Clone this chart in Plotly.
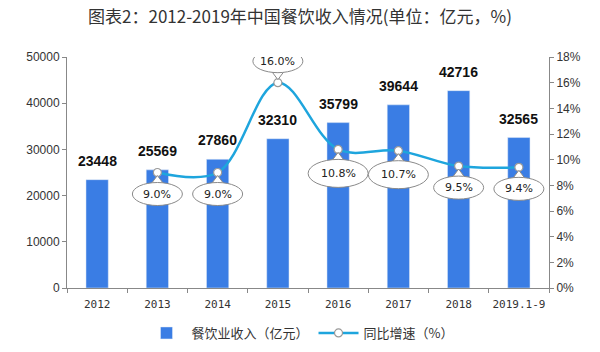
import plotly.graph_objects as go

categories = ["2012", "2013", "2014", "2015", "2016", "2017", "2018", "2019.1-9"]
revenue = [23448, 25569, 27860, 32310, 35799, 39644, 42716, 32565]
growth_cats = ["2013", "2014", "2015", "2016", "2017", "2018", "2019.1-9"]
growth = [9.0, 9.0, 16.0, 10.8, 10.7, 9.5, 9.4]
growth_labels = ["9.0%", "9.0%", "16.0%", "10.8%", "10.7%", "9.5%", "9.4%"]
callout_above = [False, False, True, False, False, False, False]

BAR = "#3a7de4"
LINE = "#1ea5dd"

fig = go.Figure()
fig.add_trace(go.Bar(x=categories, y=revenue, name="餐饮业收入（亿元）",
                     marker_color=BAR, width=0.37, yaxis="y"))
fig.add_trace(go.Scatter(x=growth_cats, y=growth, name="同比增速（%）", yaxis="y2",
                         mode="lines+markers",
                         line=dict(color=LINE, width=2.5, shape="spline", smoothing=1.0),
                         marker=dict(size=8, color="white", line=dict(color="#9a9a9a", width=1.2))))

annotations = []
for i, v in enumerate(revenue):
    annotations.append(dict(x=i, y=v, xref="x", yref="y", text=f"<b>{v}</b>",
                            showarrow=False, yanchor="bottom", yshift=9,
                            font=dict(family="Liberation Sans, Arial", size=14, color="#111")))

shapes = []
for c, v, t, up in zip(growth_cats, growth, growth_labels, callout_above):
    xi = categories.index(c)
    wide = len(t) >= 5 and not up
    hw = 30 if wide else 25
    h = 28 if wide else 23
    if up:
        ey0, ey1 = 10, 10 + h
        tri = "M -6,11 L 0,3 L 6,11 Z"
    else:
        ey0, ey1 = -10 - h, -10
        tri = "M -6,-11 L 0,-3 L 6,-11 Z"
    ty = (ey0 + ey1) / 2
    shapes.append(dict(type="path", xref="x", yref="y2", xsizemode="pixel", ysizemode="pixel",
                       xanchor=xi, yanchor=v, path=tri, fillcolor="white",
                       line=dict(color="#8a8a8a", width=1)))
    shapes.append(dict(type="circle", xref="x", yref="y2", xsizemode="pixel", ysizemode="pixel",
                       xanchor=xi, yanchor=v, x0=-hw, x1=hw, y0=ey0, y1=ey1, fillcolor="white",
                       line=dict(color="#8a8a8a", width=1)))
    annotations.append(dict(x=xi, y=v, xref="x", yref="y2", text=t, showarrow=False,
                            yshift=ty, font=dict(family="DejaVu Sans", size=11, color="#222")))

fig.update_layout(
    width=600, height=352,
    margin=dict(l=67, r=51, t=57, b=64, autoexpand=False),
    paper_bgcolor="white", plot_bgcolor="white",
    title=dict(text="图表2：2012-2019年中国餐饮收入情况(单位：亿元，%)",
               x=0.5, xref="container", xanchor="center",
               y=1 - 17 / 352, yref="container", yanchor="middle",
               font=dict(family="Noto Sans CJK SC", size=17, color="#333")),
    xaxis=dict(type="category", categoryorder="array", categoryarray=categories,
               range=[-0.5, len(categories) - 0.5], automargin=False,
               showline=True, linecolor="#888", ticks="outside",
               tickson="boundaries", ticklen=4, tickcolor="#888", tickangle=0,
               ticklabelstandoff=6,
               tickfont=dict(family="DejaVu Sans Mono, DejaVu Sans", size=11, color="#333"),
               showgrid=False),
    yaxis=dict(range=[0, 50000], dtick=10000, tickformat="d", showline=True, linecolor="#888",
               automargin=False,
               ticks="outside", ticklen=4, tickcolor="#888", showgrid=False, zeroline=False,
               tickfont=dict(family="Liberation Sans, Arial", size=12, color="#333")),
    yaxis2=dict(range=[0, 18], dtick=2, ticksuffix="%", overlaying="y", side="right",
                automargin=False,
                showline=True, linecolor="#888", ticks="outside", ticklen=4, tickcolor="#888",
                showgrid=False, zeroline=False,
                tickfont=dict(family="Liberation Sans, Arial", size=12, color="#333")),
    legend=dict(orientation="h", x=0.5, xref="container", xanchor="center",
                y=1 - 333 / 352, yref="container", yanchor="middle",
                font=dict(family="Noto Sans CJK SC", size=13, color="#333"),
                itemwidth=40, traceorder="normal"),
    showlegend=True,
    shapes=shapes,
    annotations=annotations,
)

fig.write_html("out.html")
